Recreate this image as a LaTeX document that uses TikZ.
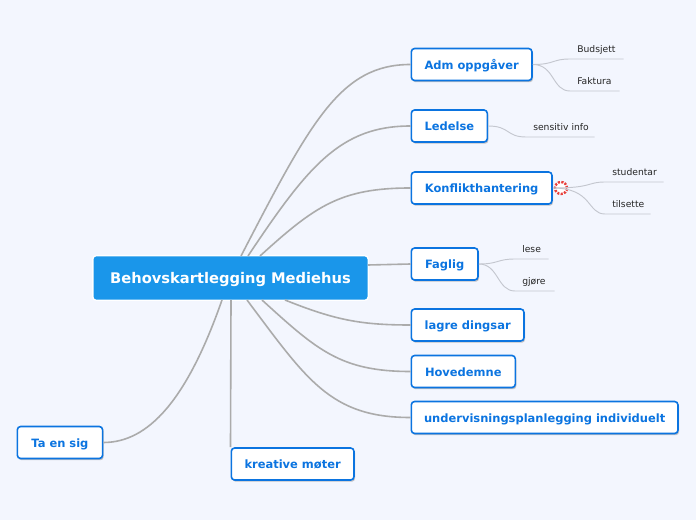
\documentclass[tikz,border=0pt]{standalone}
\usepackage{fontspec}
\setmainfont{DejaVu Sans}
\usetikzlibrary{shadows}
\definecolor{pagebg}{HTML}{F3F6FE}
\definecolor{rootblue}{HTML}{1A96EA}
\definecolor{topicblue}{HTML}{0B74E0}
\definecolor{branchgrey}{HTML}{ABABAB}
\definecolor{leafgrey}{HTML}{C4C7CF}
\definecolor{iconred}{HTML}{E8403C}
\begin{document}
\begin{tikzpicture}[%
          x=0.75pt, y=-0.75pt,
          rootbox/.style={fill=rootblue, draw=white, line width=1pt, rounded corners=2.5pt,
            text=white, font=\fontsize{11}{12}\selectfont\bfseries,
            minimum width=206.5pt, minimum height=33.5pt, inner sep=0pt,
            text height=10pt, text depth=1pt},
          topic/.style={fill=white, draw=topicblue, line width=1.2pt, rounded corners=2.5pt,
            text=topicblue, font=\fontsize{8.6}{10}\selectfont\bfseries,
            minimum height=24pt, inner sep=0pt, anchor=west,
            text height=8pt, text depth=1.2pt,
            drop shadow={shadow xshift=0.8pt, shadow yshift=-1.3pt, fill=black!50, opacity=0.45}},
          leaf/.style={anchor=south west, text=black!85, font=\fontsize{6.9}{8}\selectfont,
            text width=#1*0.75pt, align=left, inner xsep=0pt, inner ysep=4.5pt, text depth=0pt,
            execute at begin node={\hspace*{5.25pt}}},
          branch/.style={draw=branchgrey, line width=1.2pt},
          twig/.style={draw=leafgrey, line width=0.7pt}]

  \fill[pagebg] (0, 0) rectangle (696, 520);

  \coordinate (up1) at (241, 256);
  \coordinate (up2) at (248, 256);
  \coordinate (up3) at (260, 256);
  \coordinate (right1) at (368, 265);
  \coordinate (down1) at (285, 300);
  \coordinate (down2) at (262, 300);
  \coordinate (down3) at (247, 300);
  \coordinate (down4) at (231, 300);
  \coordinate (down5) at (222, 300);

  \node[rootbox] (root) at (230.5, 278) {Behovskartlegging Mediehus};

  \node[topic, minimum width=90.5pt] (adm) at (410.5, 64.5) {Adm oppgåver};
  \node[topic, minimum width=57pt] (ledelse) at (410.5, 126) {Ledelse};
  \node[topic, minimum width=105.5pt] (konflikt) at (410.5, 188) {Konflikthantering};
  \node[topic, minimum width=50pt] (faglig) at (410.5, 264) {Faglig};
  \node[topic, minimum width=84.5pt] (lagre) at (410.5, 325) {lagre dingsar};
  \node[topic, minimum width=78pt] (hoved) at (410.5, 371.5) {Hovedemne};
  \node[topic, minimum width=200pt] (underv) at (410.5, 417.5) {undervisningsplanlegging individuelt};
  \node[topic, minimum width=64pt] (taensig) at (16.5, 442.5) {Ta en sig};
  \node[topic, minimum width=92pt] (kreative) at (230.5, 464) {kreative møter};

  \node[leaf=53] (budsjett) at (570, 59) {Budsjett};
  \node[leaf=49] (faktura) at (570, 91) {Faktura};
  \node[leaf=68] (sensitiv) at (526, 137) {sensitiv info};
  \node[leaf=58] (studentar) at (605, 182) {studentar};
  \node[leaf=45] (tilsette) at (605, 214) {tilsette};
  \node[leaf=33] (lese) at (515, 259) {lese};
  \node[leaf=39] (gjore) at (515, 291) {gjøre};

  \node[circle, draw=iconred, fill=white, line width=1.8pt, dash pattern=on 1.6pt off 1pt,
        minimum size=9pt, inner sep=0pt] (prio) at (561, 188) {};

  \draw[branch] (up1) .. controls +(70,-135) and +(-70,0) .. (adm.west);
  \draw[branch] (up2) .. controls +(60,-90) and +(-70,0) .. (ledelse.west);
  \draw[branch] (up3) .. controls +(55,-50) and +(-70,0) .. (konflikt.west);
  \draw[branch] (right1) -- (faglig.west);
  \draw[branch] (down1) .. controls +(50,20) and +(-50,0) .. (lagre.west);
  \draw[branch] (down2) .. controls +(55,50) and +(-70,0) .. (hoved.west);
  \draw[branch] (down3) .. controls +(60,80) and +(-80,0) .. (underv.west);
  \draw[branch] (down4) -- (kreative.north west);
  \draw[branch] (down5) .. controls +(-35,100) and +(45,0) .. (taensig.east);

  \draw[twig] (adm.east) .. controls +(22,0) and +(-18,0) .. (budsjett.south west) -- (budsjett.south east);
  \draw[twig] (adm.east) .. controls +(22,0) and +(-18,0) .. (faktura.south west) -- (faktura.south east);
  \draw[twig] (ledelse.east) .. controls +(22,0) and +(-20,0) .. (sensitiv.south west) -- (sensitiv.south east);
  \draw[twig] (konflikt.east) .. controls +(40,0) and +(-18,0) .. (studentar.south west) -- (studentar.south east);
  \draw[twig] (konflikt.east) .. controls +(40,0) and +(-18,0) .. (tilsette.south west) -- (tilsette.south east);
  \draw[twig] (faglig.east) .. controls +(20,0) and +(-18,0) .. (lese.south west) -- (lese.south east);
  \draw[twig] (faglig.east) .. controls +(20,0) and +(-18,0) .. (gjore.south west) -- (gjore.south east);

\end{tikzpicture}
\end{document}
